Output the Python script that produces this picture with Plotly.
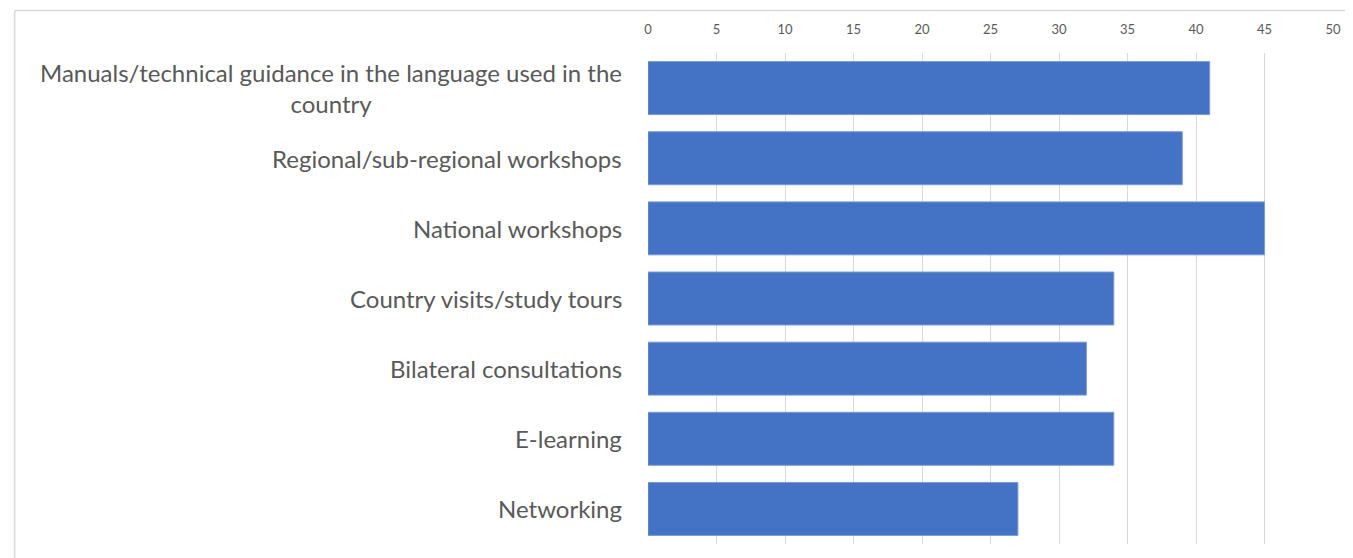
import plotly.graph_objects as go

categories = [
    "Manuals/technical guidance in the language used in the<br>country",
    "Regional/sub-regional workshops",
    "National workshops",
    "Country visits/study tours",
    "Bilateral consultations",
    "E-learning",
    "Networking",
]
values = [41, 39, 45, 34, 32, 34, 27]
x_ticks = [0, 5, 10, 15, 20, 25, 30, 35, 40, 45, 50]

# page has an 8px body margin; figure coords = page coords - 8
W, H = 1345, 550
L, R, T, B = 640, 15, 45, 14
pw, ph = W - L - R, H - T - B

fig = go.Figure()
fig.add_trace(go.Bar(
    x=values, y=categories, orientation="h",
    marker=dict(color="#4472C4", line=dict(color="#7a9ad6", width=1)),
    hoverinfo="x+y",
))

for c in categories:
    fig.add_annotation(
        x=0, xref="paper", y=c, yref="y", xanchor="right", yanchor="middle",
        xshift=-24, text=c, showarrow=False, align="center",
        font=dict(family="Lato", size=24, color="#595959"),
    )

# chart-area border (top and left visible)
x_left = (2 - L) / pw
y_top = (H - B - 2.5) / ph
y_bot = (H - B - (H + 20)) / ph
fig.add_shape(type="line", xref="paper", yref="paper",
              x0=x_left, x1=(W + 10 - L) / pw, y0=y_top, y1=y_top,
              line=dict(color="#D9D9D9", width=1.5))
fig.add_shape(type="line", xref="paper", yref="paper",
              x0=x_left, x1=x_left, y0=y_top, y1=y_bot,
              line=dict(color="#D9D9D9", width=1.5))

fig.update_layout(
    width=W, height=H,
    margin=dict(l=L, r=R, t=T, b=B),
    paper_bgcolor="white", plot_bgcolor="white",
    bargap=0.245,
    showlegend=False,
    font=dict(family="Lato", color="#595959"),
    xaxis=dict(
        side="top", range=[0, 50], tickvals=x_ticks,
        showgrid=True, gridcolor="#D9D9D9", gridwidth=1,
        zeroline=False, showline=False, ticks="",
        tickfont=dict(size=13, color="#595959"),
        ticklabelstandoff=15,
    ),
    yaxis=dict(
        categoryorder="array", categoryarray=categories,
        autorange="reversed", showticklabels=False, showgrid=False,
        zeroline=False, showline=False, ticks="",
    ),
)

fig.write_html("out.html")
